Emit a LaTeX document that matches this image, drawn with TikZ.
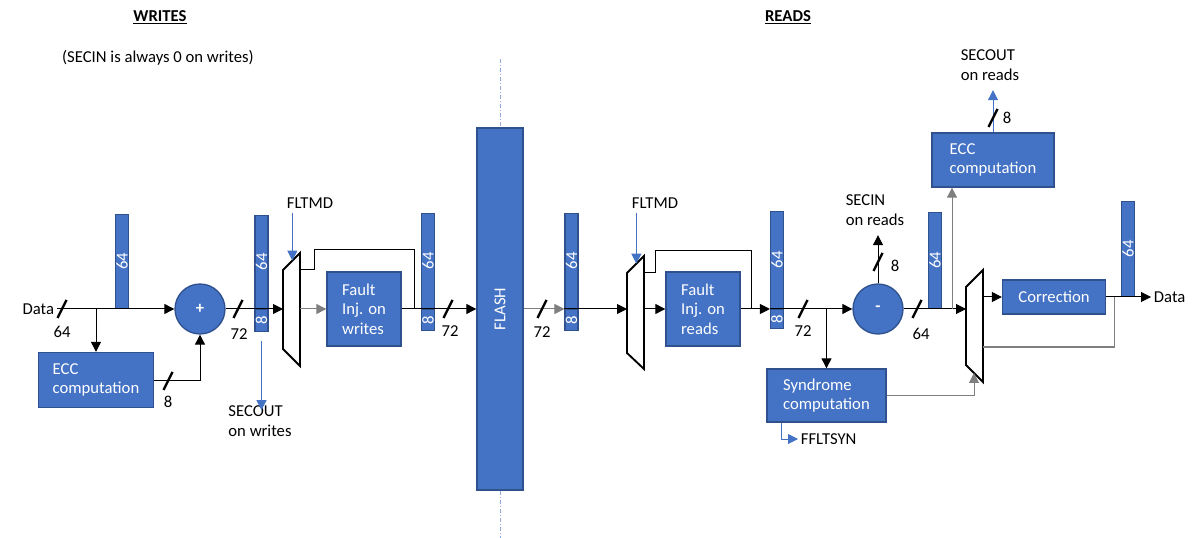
\documentclass[tikz,border=0pt]{standalone}
\usepackage{fontspec}
\usepackage{graphicx}
\setmainfont{Carlito}
\usetikzlibrary{arrows.meta,calc}

\definecolor{blkfill}{HTML}{4472C4}
\definecolor{blkline}{HTML}{2F528F}
\definecolor{wiregray}{HTML}{7F7F7F}
\definecolor{dashblue}{HTML}{8FAADC}

\tikzset{
  every node/.style={font=\fontsize{12.5}{14.5}\selectfont},
  blk/.style 2 args={draw=blkline, line width=1pt, fill=blkfill, text=white, align=left,
    inner sep=0pt, minimum width=#1*0.75pt, minimum height=#2*0.75pt},
  busbar/.style={draw=blkline, line width=0.8pt, fill=blkfill, text=white, inner sep=0pt,
    minimum width=13*0.75pt, minimum height=#1*0.75pt},
  adder/.style={circle, draw=blkline, line width=1pt, fill=blkfill, text=white,
    minimum size=50*0.75pt, inner sep=0pt},
  muxbody/.style={draw=black, line width=1.4pt, fill=white, line join=miter},
  plain/.style={draw=black, line width=0.75pt},
  gry/.style={draw=wiregray},
  sig/.style={plain, -{Triangle[length=7.5pt,width=7.5pt]}},
  bsig/.style={draw=blkfill, line width=0.75pt, -{Triangle[length=7.5pt,width=7.5pt]}},
  busslash/.style={draw=black, line width=1.8pt},
  lbl/.style={align=left}
}

\begin{document}
\begin{tikzpicture}[x=0.75pt, y=-0.75pt]
  \useasboundingbox (0,0) rectangle (1196,538);

  % Titles
  \node (wtitle) at (160,17) {\underline{\textbf{WRITES}}};
  \node (rtitle) at (788,17) {\underline{\textbf{READS}}};
  \node (wnote) at (158,58) {(SECIN is always 0 on writes)};

  % Divider
  \draw[dashblue, line width=0.75pt, dash pattern=on 3pt off 1.5pt on 0.75pt off 1.5pt] (500,59) -- (500,538);

  % Write side blocks
  \node[anchor=east, inner sep=2pt] (din) at (57,309) {Data};
  \node[busbar=94, anchor=south] (b1) at (122,309) {\rotatebox{90}{64}};
  \node[adder] (plus) at (200,309) {\textbf{+}};
  \node[blk={115}{55}] (ecc1) at (96,380) {ECC\\computation};
  \node[busbar=93, anchor=south] (b2hi) at (261.5,309) {\rotatebox{90}{64}};
  \node[busbar=22, anchor=north] (b2lo) at (261.5,309) {\rotatebox{90}{8}};
  \node[lbl] (secoutw) at (260,421) {SECOUT\\on writes};
  \node (fltw) at (310,203) {FLTMD};
  \node[blk={74}{74}] (fw) at (364,309) {Fault\\Inj. on\\writes};
  \node[busbar=95, anchor=south] (b3hi) at (428,309) {\rotatebox{90}{64}};
  \node[busbar=21, anchor=north] (b3lo) at (428,309) {\rotatebox{90}{8}};

  % Flash
  \node[blk={46}{362}, align=center] (flash) at (500,309) {\rotatebox{90}{FLASH}};

  % Read side blocks
  \node[busbar=95, anchor=south] (b4hi) at (571.5,309) {\rotatebox{90}{64}};
  \node[busbar=21, anchor=north] (b4lo) at (571.5,309) {\rotatebox{90}{8}};
  \node (fltr) at (655,203) {FLTMD};
  \node[blk={74}{74}] (fr) at (703,309) {Fault\\Inj. on\\reads};
  \node[busbar=97, anchor=south] (b5hi) at (777,309) {\rotatebox{90}{64}};
  \node[busbar=19, anchor=north] (b5lo) at (777,309) {\rotatebox{90}{8}};
  \node[blk={119}{53}] (syn) at (826.5,395.5) {Syndrome\\computation};
  \node[anchor=west, inner sep=2pt] (fflt) at (798,439) {FFLTSYN};
  \node[adder] (minus) at (878,309) {\textbf{-}};
  \node[lbl] (secinr) at (875,210) {SECIN\\on reads};
  \node[busbar=96, anchor=south] (b6) at (935,309) {\rotatebox{90}{64}};
  \node[blk={122}{54}] (ecc2) at (993,160) {ECC\\computation};
  \node[lbl] (secoutr) at (990,65) {SECOUT\\on reads};
  \node[blk={103}{34}, align=center] (corr) at (1054,297) {Correction};
  \node[busbar=95, anchor=south] (b7) at (1128,297) {\rotatebox{90}{64}};
  \node[anchor=west, inner sep=2pt] (dout) at (1151,297) {Data};

  % Muxes
  \draw[muxbody] (283,270) coordinate (m1tl) -- (300,253) coordinate (m1tr)
    -- (300,366) coordinate (m1br) -- (283,349) coordinate (m1bl) -- cycle;
  \draw[muxbody] (627,273) coordinate (m2tl) -- (644,256) coordinate (m2tr)
    -- (644,369) coordinate (m2br) -- (627,353) coordinate (m2bl) -- cycle;
  \draw[muxbody] (966,287) coordinate (m3tl) -- (983,270) coordinate (m3tr)
    -- (983,382) coordinate (m3br) -- (966,365) coordinate (m3bl) -- cycle;
  \coordinate (m1sel) at ($(m1tl)!0.55!(m1tr)$);
  \coordinate (m2sel) at ($(m2tl)!0.55!(m2tr)$);
  \coordinate (m3sel) at ($(m3bl)!0.47!(m3br)$);
  \coordinate (fbk) at (1114,347);
  \coordinate (j3) at (952,309);

  % Write path
  \draw[sig] (din.east) -- (plus.west);
  \draw[sig] (ecc1.north |- din.east) -- (ecc1.north);
  \draw[sig] (ecc1.east) -| (plus.south);
  \draw[sig] (plus.east) -- (plus.east -| m1tl);
  \draw[bsig] ([yshift=-9*0.75pt]b2lo.south) -- ([yshift=-9*0.75pt]b2lo.south |- secoutw.north);
  \draw[bsig] (fltw.south -| m1sel) -- (m1sel);
  \draw[sig, gry] (m1tr |- fw.west) -- (fw.west);
  \draw[plain] (m1tr |- m1tl) -- ++(14,0) -- ++(0,-20) -| (414,309);
  \draw[sig] (fw.east) -- (flash.west);

  % Read path
  \draw[sig, gry] (flash.east) -- (b4hi.south west);
  \draw[sig] (b4hi.south west) -- (b4hi.south west -| m2tl);
  \draw[bsig] (fltr.south -| m2sel) -- (m2sel);
  \draw[sig] (m2tr |- fr.west) -- (fr.west);
  \draw[plain] (m2tr |- m2tl) -- ++(11,0) -- ++(0,-22) -| (751,309);
  \draw[sig] (fr.east) -- (b5hi.south west);
  \draw[sig] (b5hi.south west) -- (minus.west);
  \draw[sig] (syn.north |- minus.west) -- (syn.north);
  \draw[bsig] ([xshift=15*0.75pt]syn.south west) |- (fflt.west);
  \draw[sig, gry] (syn.east) -| (m3sel);
  \draw[sig] (minus.north) -- ([yshift=-4pt]minus.north |- secinr.south);
  \draw[sig] (minus.east) -- (minus.east -| m3tl);
  \draw[sig, gry] (j3) -- (j3 |- ecc2.south);
  \draw[bsig] (ecc2.north) -- ([yshift=-4pt]ecc2.north |- secoutr.south);
  \draw[sig] (m3tr |- corr.west) -- (corr.west);
  \draw[sig] (corr.east) -- (dout.west);
  \draw[plain, gry] (fbk |- corr.east) |- (m3tr |- fbk);

  % Bus width marks
  \foreach \sx/\sy in {62/309, 168/381, 238/309, 448/309, 542/309, 803/309, 878/262, 917/309, 993/118}
    \draw[busslash] (\sx-4.5,\sy+9) -- (\sx+4.5,\sy-9);
  \foreach \lx/\ly/\lw in {62/332/64, 168/402/8, 239/334/72, 450/331/72, 542/332/72,
      803/331/72, 895/266/8, 921/334/64, 1007/118/8}
    \node (w\lx) at (\lx,\ly) {\lw};
\end{tikzpicture}
\end{document}
